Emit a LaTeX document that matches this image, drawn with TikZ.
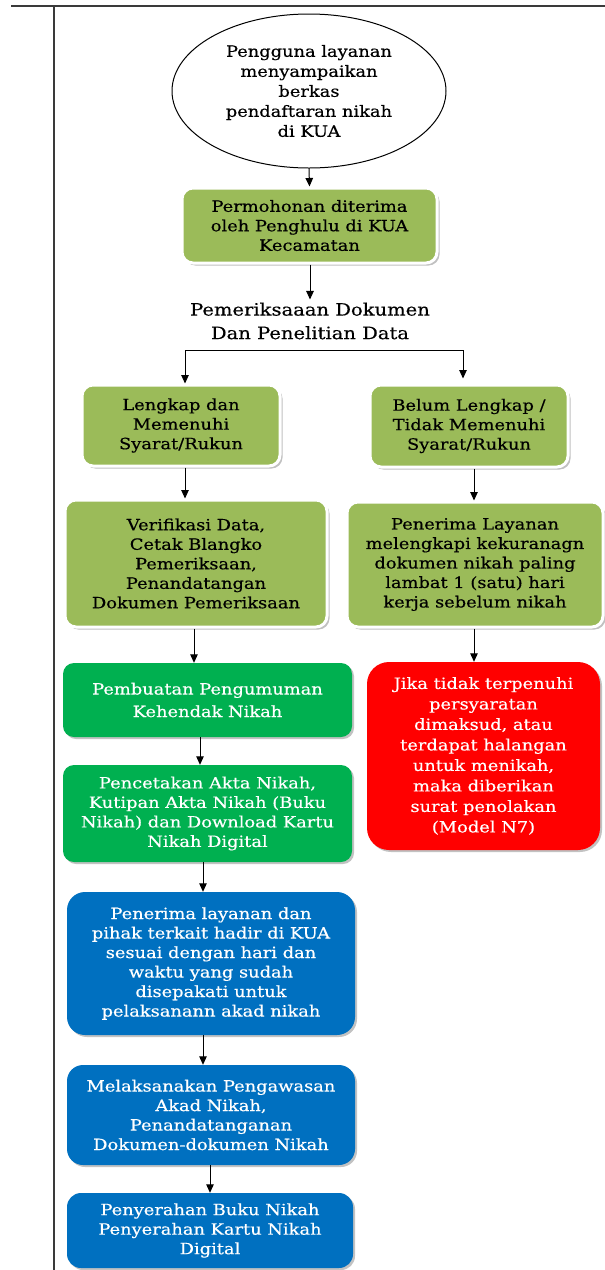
\documentclass[tikz,border=0pt]{standalone}
\usepackage{fontspec}
\setmainfont{DejaVu Serif}[FakeStretch=1.15, FakeBold=0.4]
\usetikzlibrary{shapes.geometric,arrows.meta,shadows}
\definecolor{kolive}{HTML}{9BBB59}
\definecolor{kgreen}{HTML}{00B050}
\definecolor{kred}{HTML}{FF0000}
\definecolor{kblue}{HTML}{0070C0}
\definecolor{kframe}{HTML}{3A3A3A}
\tikzset{
  boxbase/.style={rectangle, rounded corners=11pt, align=center, inner sep=0pt,
    font=\fontsize{15.5}{19.5}\selectfont},
  olivebox/.style={boxbase, fill=kolive, draw=white, line width=3pt, text=black,
    drop shadow={shadow xshift=2.5pt, shadow yshift=-2.5pt, fill=black!35, opacity=0.7}},
  colorbox/.style={boxbase, fill=#1, draw=none, text=white,
    drop shadow={shadow xshift=2pt, shadow yshift=-2pt, fill=black!40, opacity=0.6}},
  arr/.style={draw=black, line width=1pt, -{Triangle[width=7.5pt,length=8.5pt]}},
  framestyle/.style={draw=kframe, line width=1.6pt},
  headingtext/.style={align=center, inner sep=0pt, font=\fontsize{17}{23.5}\selectfont}
}
\begin{document}
\begin{tikzpicture}[x=1pt,y=-1pt]
\useasboundingbox (0,0) rectangle (605,1270);
\draw[framestyle] (11,6) -- (605,6);
\draw[framestyle] (54,6) -- (54,1270);

\node[ellipse, draw=black, line width=1pt, minimum width=274pt, minimum height=154pt,
  align=center, inner sep=0pt, font=\fontsize{15.5}{20}\selectfont] (ell) at (309,91)
  {Pengguna layanan\\menyampaikan\\berkas\\pendaftaran nikah\\di KUA};

\node[olivebox, minimum width=255pt, minimum height=75pt] (b1) at (309.5,225.5)
  {Permohonan diterima\\oleh Penghulu di KUA\\Kecamatan};

\node[headingtext] (head) at (310,321) {Pemeriksaaan Dokumen\\Dan Penelitian Data};

\coordinate (sL) at (185,350);
\coordinate (sR) at (463,350);

\node[olivebox, minimum width=198pt, minimum height=81pt] (b2) at (181,425.5)
  {Lengkap dan\\Memenuhi\\Syarat/Rukun};
\node[olivebox, minimum width=198pt, minimum height=82pt] (b3) at (469,426)
  {Belum Lengkap /\\Tidak Memenuhi\\Syarat/Rukun};

\node[olivebox, minimum width=262pt, minimum height=127pt] (b4) at (196,563.5)
  {Verifikasi Data,\\Cetak Blangko\\Pemeriksaan,\\Penandatangan\\Dokumen Pemeriksaan};
\node[olivebox, minimum width=256pt, minimum height=125pt] (b5) at (475,564.5)
  {Penerima Layanan\\melengkapi kekuranagn\\dokumen nikah paling\\lambat 1 (satu) hari\\kerja sebelum nikah};

\node[colorbox=kgreen, minimum width=289pt, minimum height=74pt] (g1) at (207.5,700)
  {Pembuatan Pengumuman\\[3pt]Kehendak Nikah};
\node[colorbox=kred, rounded corners=22pt, minimum width=233pt, minimum height=188pt,
  font=\fontsize{15.5}{20.5}\selectfont] (r1) at (483.5,756)
  {Jika tidak terpenuhi\\persyaratan\\dimaksud, atau\\terdapat halangan\\untuk menikah,\\maka diberikan\\surat penolakan\\(Model N7)};
\node[colorbox=kgreen, minimum width=289pt, minimum height=97pt] (g2) at (207.5,813.5)
  {Pencetakan Akta Nikah,\\Kutipan Akta Nikah (Buku\\Nikah) dan Download Kartu\\Nikah Digital};

\node[colorbox=kblue, rounded corners=18pt, minimum width=288pt, minimum height=143pt] (u1) at (211,963.5)
  {Penerima layanan dan\\pihak terkait hadir di KUA\\sesuai dengan hari dan\\waktu yang sudah\\disepakati untuk\\pelaksanann akad nikah};
\node[colorbox=kblue, rounded corners=16pt, minimum width=288pt, minimum height=100pt] (u2) at (211,1115)
  {Melaksanakan Pengawasan\\Akad Nikah,\\Penandatanganan\\Dokumen-dokumen Nikah};
\node[colorbox=kblue, rounded corners=14pt, minimum width=286pt, minimum height=75pt] (u3) at (210,1230.5)
  {Penyerahan Buku Nikah\\Penyerahan Kartu Nikah\\Digital};

\draw[arr] (ell.south) -- (b1.north);
\draw[arr] (b1.south -| head.north) -- ([yshift=3pt]head.north);
\draw[line width=1pt] (sL) -- (sR);
\draw[arr] (sL) -- (sL |- b2.north);
\draw[arr] (sR) -- ([yshift=5pt]sR |- b3.north);
\draw[arr] ([xshift=4pt]b2.south) -- ([xshift=4pt]b2.south |- b4.north);
\draw[arr] ([xshift=5pt]b3.south) -- ([xshift=5pt]b3.south |- b5.north);
\draw[arr] ([xshift=-2pt]b4.south) -- ([xshift=-2pt]b4.south |- g1.north);
\draw[arr] ([xshift=-1pt]b5.south) -- ([xshift=-1pt]b5.south |- r1.north);
\draw[arr] ([xshift=-7.5pt]g1.south) -- ([xshift=-7.5pt]g1.south |- g2.north);
\draw[arr] ([xshift=-4.5pt]g2.south) -- ([xshift=-4.5pt]g2.south |- u1.north);
\draw[arr] ([xshift=-8pt]u1.south) -- ([xshift=-8pt]u1.south |- u2.north);
\draw[arr] ([xshift=-1pt]u2.south) -- ([xshift=-1pt]u2.south |- u3.north);
\end{tikzpicture}
\end{document}
